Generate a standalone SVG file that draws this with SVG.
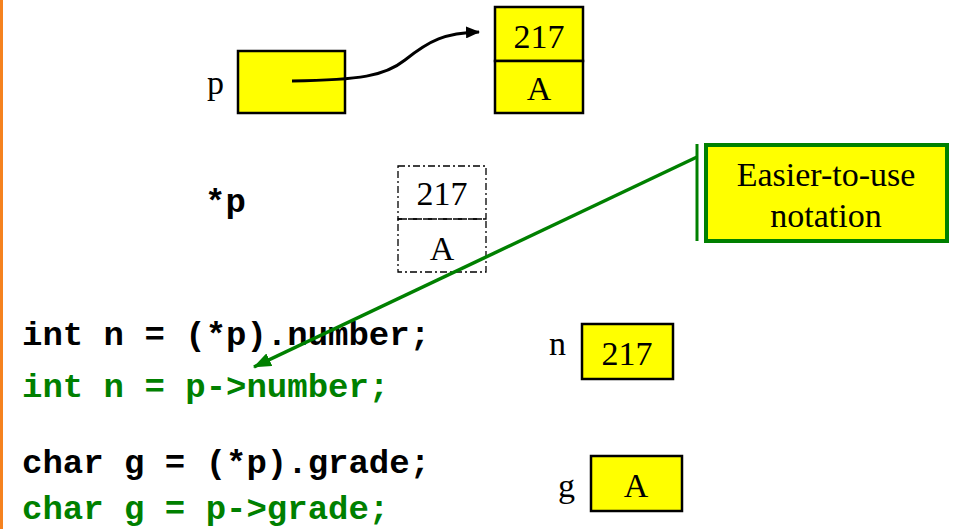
<svg xmlns="http://www.w3.org/2000/svg" width="955" height="529" viewBox="0 0 955 529">
<style>
.box{fill:#ffff00;stroke:#000;stroke-width:2.5}
.dash{fill:none;stroke:#000;stroke-width:1.3;stroke-dasharray:7,3,2,3}
.t{font-family:"Liberation Serif","Times New Roman",serif;font-size:34px;fill:#000}
.c{font-family:"Liberation Mono","Courier New",monospace;font-weight:bold;font-size:34px}
.blk{fill:#000}
.grn{fill:#008000}
</style>
<defs>
<marker id="ah" markerWidth="14" markerHeight="12" refX="13" refY="6" orient="auto" markerUnits="userSpaceOnUse" viewBox="0 0 14 12"><path d="M0,0 L14,6 L0,12 Z" fill="#000"/></marker>
<marker id="ahg" markerWidth="18" markerHeight="14" refX="17" refY="7" orient="auto" markerUnits="userSpaceOnUse" viewBox="0 0 18 14"><path d="M0,0 L18,7 L0,14 Z" fill="#008000"/></marker>
</defs>
<rect x="0" y="0" width="3" height="529" fill="#f5821f"/>
<g id="p">
<text class="t" x="207" y="94">p</text>
<rect class="box" x="238" y="51" width="107" height="62"/>
</g>
<g id="struct">
<rect class="box" x="495" y="7" width="88" height="54"/>
<rect class="box" x="495" y="61" width="88" height="52"/>
<text class="t" x="539" y="48" text-anchor="middle">217</text>
<text class="t" x="539" y="100" text-anchor="middle">A</text>
</g>
<g id="starp">
<text class="c blk" x="205" y="212">*p</text>
<rect class="dash" x="398" y="166" width="88" height="53"/>
<rect class="dash" x="398" y="219" width="88" height="53"/>
<text class="t" x="442" y="205" text-anchor="middle">217</text>
<text class="t" x="442" y="260" text-anchor="middle">A</text>
</g>
<g id="callout">
<rect x="706" y="145" width="241" height="96" fill="#ffff00" stroke="#008000" stroke-width="4"/>
<line x1="697" y1="144" x2="697" y2="241" stroke="#008000" stroke-width="3"/>
<text class="t" x="826" y="186" text-anchor="middle" font-size="31">Easier-to-use</text>
<text class="t" x="826" y="227" text-anchor="middle" font-size="31">notation</text>
</g>
<g id="code">
<text class="c blk" x="22" y="345">int n = (*p).number;</text>
<text class="c grn" x="22" y="397">int n = p-&gt;number;</text>
<text class="c blk" x="22" y="473">char g = (*p).grade;</text>
<text class="c grn" x="22" y="519">char g = p-&gt;grade;</text>
</g>
<g id="n">
<text class="t" x="549" y="355">n</text>
<rect class="box" x="582" y="324" width="91" height="55"/>
<text class="t" x="627" y="365" text-anchor="middle">217</text>
</g>
<g id="g">
<text class="t" x="558" y="497">g</text>
<rect class="box" x="591" y="456" width="91" height="55"/>
<text class="t" x="636" y="497" text-anchor="middle">A</text>
</g>
<g id="connectors">
<path d="M292,81 C360,80 385,76 405,60 C430,40 445,33 479,32" fill="none" stroke="#000" stroke-width="3" marker-end="url(#ah)"/>
<line x1="697" y1="157" x2="254" y2="367" stroke="#008000" stroke-width="3.5" marker-end="url(#ahg)"/>
</g>
</svg>
